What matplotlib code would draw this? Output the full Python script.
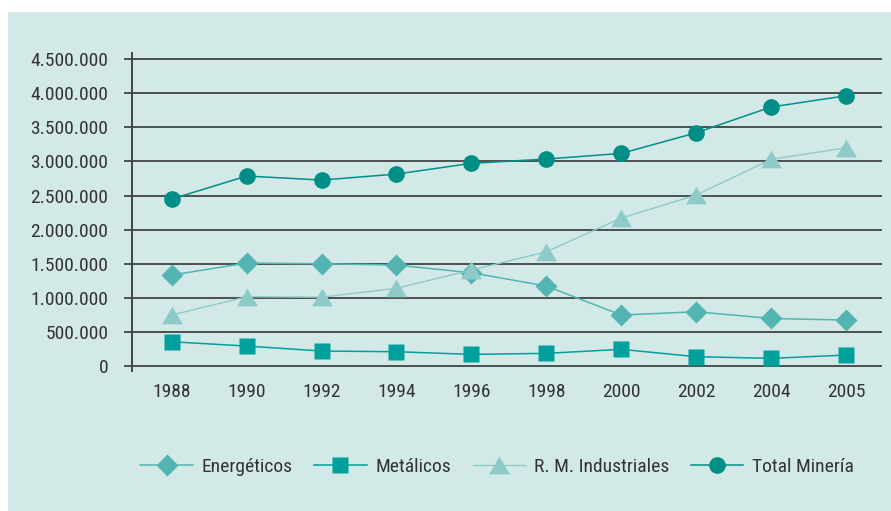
import matplotlib
matplotlib.use("Agg")
import matplotlib.pyplot as plt
from matplotlib import font_manager
from matplotlib.patches import Rectangle
from matplotlib.ticker import FuncFormatter, MultipleLocator

# Data
years = ["1988", "1990", "1992", "1994", "1996", "1998", "2000", "2002", "2004", "2005"]
energeticos = [1334000, 1510000, 1500000, 1480000, 1368000, 1173000, 748000, 796000, 698000, 674000]
metalicos = [356000, 293000, 220000, 210000, 171000, 186000, 245000, 137000, 113000, 161000]
industriales = [748000, 1016000, 1010000, 1140000, 1407000, 1676000, 2170000, 2507000, 3030000, 3200000]
total = [2449000, 2786000, 2727000, 2815000, 2972000, 3035000, 3118000, 3420000, 3798000, 3963000]

BG = "#d2e9e8"
TEXT = "#333333"
GRID = "#404444"

# condensed face if one is around, else Roboto
installed = {f.name for f in font_manager.fontManager.ttflist}
condensed = [n for n in ("Roboto Condensed", "Liberation Sans Narrow") if n in installed]
plt.rcParams["font.family"] = condensed[:1] + ["Roboto", "DejaVu Sans"]
FS = 14 if condensed else 12.5

fig = plt.figure(figsize=(8.91, 5.11), dpi=100)
fig.patch.set_facecolor("white")
# coloured panel behind the chart (white strips on the left and top)
fig.add_artist(Rectangle((8 / 891, 0), 1 - 8 / 891, 1 - 12 / 511,
                         transform=fig.transFigure, facecolor=BG,
                         edgecolor="none", zorder=-10))

ax = fig.add_axes([132 / 891, (511 - 371.5) / 511, (882 - 132) / 891, (371.5 - 53) / 511])
ax.set_facecolor("none")

x = list(range(len(years)))

tri = [(-1, -0.85), (1, -0.85), (0, 0.85)]

ax.plot(x, energeticos, color="#52b5b2", lw=1.1, marker="D", ms=11.5,
        mec="none", label="Energéticos", zorder=3)
ax.plot(x, metalicos, color="#00a19d", lw=1.1, marker="s", ms=12,
        mec="none", label="Metálicos", zorder=3)
ax.plot(x, industriales, color="#8ecbc8", lw=1.0, marker=tri, ms=15,
        mec="none", label="R. M. Industriales", zorder=3)
ax.plot(x, total, color="#008f87", lw=1.1, marker="o", ms=12,
        mec="none", label="Total Minería", zorder=3)

ax.set_xlim(-0.53, 9.48)
ax.set_ylim(-80000, 4590000)
ax.yaxis.set_major_locator(MultipleLocator(500000))
ax.yaxis.set_major_formatter(FuncFormatter(lambda v, p: f"{int(v):,}".replace(",", ".")))
ax.set_xticks(x)
ax.set_xticklabels(years)

ax.grid(axis="y", color=GRID, lw=1.3, zorder=1)
ax.set_axisbelow(True)
for side in ["top", "right", "bottom"]:
    ax.spines[side].set_visible(False)
ax.spines["left"].set_color(GRID)
ax.spines["left"].set_linewidth(1.4)

ax.tick_params(axis="y", length=6, width=1.3, color=GRID, pad=11,
               labelsize=FS, labelcolor=TEXT)
ax.tick_params(axis="x", length=0, pad=8, labelsize=FS, labelcolor=TEXT)

fig.legend(loc="center", bbox_to_anchor=(497 / 891, 44 / 511), ncol=4,
           frameon=False, fontsize=FS, labelcolor=TEXT,
           handlelength=2.7, handletextpad=0.45, columnspacing=1.1)

fig.savefig("out.png", dpi=100)
